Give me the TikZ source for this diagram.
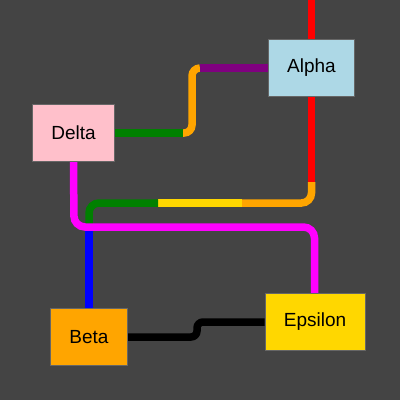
\documentclass[tikz,border=0pt]{standalone}
\usepackage{fontspec}
\setmainfont{Liberation Sans}
\definecolor{bg}{HTML}{444444}
\definecolor{cAlpha}{HTML}{ADD8E6}
\definecolor{cDelta}{HTML}{FFC0CB}
\definecolor{cBeta}{HTML}{FFA500}
\definecolor{cEps}{HTML}{FFD700}
\definecolor{lred}{HTML}{FF0000}
\definecolor{lorange}{HTML}{FFA500}
\definecolor{lyellow}{HTML}{FFD700}
\definecolor{lgreen}{HTML}{008000}
\definecolor{lblue}{HTML}{0000FF}
\definecolor{lpurple}{HTML}{800080}
\definecolor{lmagenta}{HTML}{FF00FF}
\definecolor{bord}{HTML}{666666}
\pgfdeclarelayer{backdrop}
\pgfdeclarelayer{wires}
\pgfsetlayers{backdrop,wires,main}
\begin{document}
\begin{tikzpicture}[x=1pt,y=-1pt,
  box/.style={draw=bord,line width=0.8pt,inner sep=0pt,minimum height=57pt,
    font=\fontsize{19}{22}\selectfont,text=black},
  wire/.style={line width=7.5pt,line cap=butt}]
\useasboundingbox (0,0) rectangle (400,400);
\begin{pgfonlayer}{backdrop}
\fill[bg] (0,0) rectangle (400,400);
\end{pgfonlayer}

% nodes
\node[box,fill=cAlpha,minimum width=86pt] (alpha) at (311.5,68) {Alpha};
\node[box,fill=cDelta,minimum width=81.5pt] (delta) at (73.5,133) {Delta};
\node[box,fill=cBeta,minimum width=76.5pt] (beta) at (89,337) {Beta};
\node[box,fill=cEps,minimum width=100pt] (eps) at (315,322) {Epsilon};

% coordinates
\coordinate (top) at (311.5,0);
\coordinate (r1) at (311.5,182);
\coordinate (o1) at (242,203);
\coordinate (y1) at (158,203);
\coordinate (g1) at (89,227);
\coordinate (dg) at (183,133);
\coordinate (po) at (200,68);

\begin{pgfonlayer}{wires}
% red top
\draw[wire,lred] (top) -- (alpha.north);
% red below alpha
\draw[wire,lred] (alpha.south) -- (r1);
% orange corner
\draw[wire,lorange,rounded corners=10pt] (r1) -- (311.5,203) -- (o1);
% yellow
\draw[wire,lyellow] (o1) -- (y1);
% green corner
\draw[wire,lgreen,rounded corners=10pt] (y1) -- (89,203) -- (g1);
% blue
\draw[wire,lblue] (g1) -- (beta.north);

% delta to alpha
\draw[wire,lgreen] (delta.east |- dg) -- (dg);
\draw[wire,lorange,rounded corners=8pt] (dg) -- (192,133) -- (192,68) -- (po);
\draw[wire,lpurple] (po) -- (alpha.west);

% magenta
\draw[wire,lmagenta,rounded corners=11pt] (delta.south) -- (74,227) -- (314.5,227) -- (eps.north -| 314.5,0);

% black
\draw[wire,black,rounded corners=6pt] (beta.east) -- (197,337) -- (197,322) -- (eps.west);
\end{pgfonlayer}
\end{tikzpicture}
\end{document}
